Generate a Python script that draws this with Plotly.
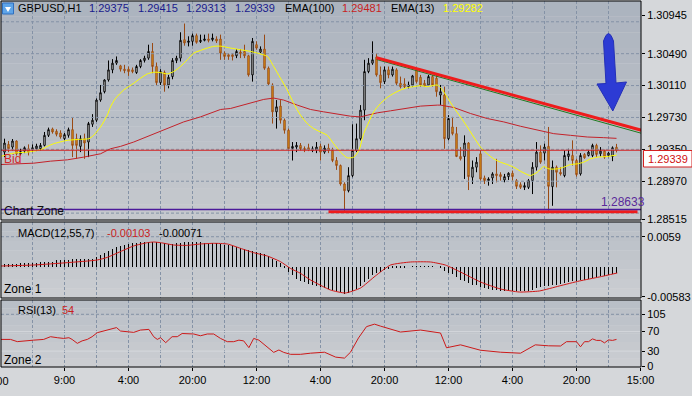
import plotly.graph_objects as go

# ---------------- data ----------------
bar_index = list(range(154))

opens = [
    1.29317, 1.29409, 1.29377, 1.29449, 1.29297, 1.29329, 1.29357, 1.29345, 1.29357, 1.29357,
    1.29397, 1.29517, 1.29593, 1.29565, 1.29545, 1.29477, 1.29517, 1.29585, 1.29477, 1.29385,
    1.29477, 1.29437, 1.29649, 1.29697, 1.29937, 1.30037, 1.30177, 1.30297, 1.30377, 1.30345,
    1.30305, 1.30305, 1.30297, 1.30265, 1.30337, 1.30409, 1.30437, 1.30517, 1.30337, 1.30145,
    1.30265, 1.30117, 1.30217, 1.30409, 1.30437, 1.30657, 1.30625, 1.30637, 1.30705, 1.30633,
    1.30649, 1.30665, 1.30657, 1.30665, 1.30665, 1.30497, 1.30477, 1.30477, 1.30465, 1.30509,
    1.30517, 1.30465, 1.30237, 1.30597, 1.30509, 1.30545, 1.30317, 1.30117, 1.29797, 1.29865,
    1.29697, 1.29577, 1.29361, 1.29377, 1.29397, 1.29361, 1.29369, 1.29337, 1.29345, 1.29385,
    1.29317, 1.29365, 1.29337, 1.29217, 1.29157, 1.28937, 1.28857, 1.29037, 1.29337, 1.29477,
    1.29817, 1.30277, 1.30377, 1.30449, 1.30237, 1.30157, 1.30297, 1.30237, 1.30297, 1.30137,
    1.30129, 1.30097, 1.30117, 1.30297, 1.30209, 1.30137, 1.30117, 1.30217, 1.30197, 1.29997,
    1.29997, 1.29477, 1.29617, 1.29537, 1.29265, 1.29265, 1.29425, 1.29017, 1.29137, 1.29297,
    1.29009, 1.28977, 1.29009, 1.29057, 1.29049, 1.28985, 1.29025, 1.29065, 1.28977, 1.28929,
    1.28897, 1.28897, 1.28977, 1.29137, 1.29317, 1.29305, 1.29385, 1.28905, 1.29137, 1.29077,
    1.29037, 1.29265, 1.29277, 1.29217, 1.29057, 1.29289, 1.29277, 1.29277, 1.29397, 1.29297,
    1.29329, 1.29277, 1.29265, 1.29375]

highs = [
    1.29477, 1.29449, 1.29473, 1.29457, 1.29357, 1.29385, 1.29409, 1.29409, 1.29417, 1.29425,
    1.29557, 1.29609, 1.29609, 1.29589, 1.29577, 1.29545, 1.29609, 1.29729, 1.29537, 1.29517,
    1.29537, 1.29677, 1.29769, 1.29957, 1.30117, 1.30185, 1.30409, 1.30425, 1.30457, 1.30357,
    1.30357, 1.30337, 1.30325, 1.30357, 1.30425, 1.30465, 1.30597, 1.30617, 1.30385, 1.30305,
    1.30289, 1.30237, 1.30437, 1.30465, 1.30745, 1.30849, 1.30697, 1.30729, 1.30729, 1.30717,
    1.30717, 1.30729, 1.30729, 1.30697, 1.30717, 1.30517, 1.30497, 1.30497, 1.30545, 1.30545,
    1.30597, 1.30477, 1.30677, 1.30637, 1.30577, 1.30717, 1.30337, 1.30137, 1.29937, 1.29937,
    1.29717, 1.29597, 1.29437, 1.29437, 1.29425, 1.29385, 1.29417, 1.29385, 1.29437, 1.29417,
    1.29397, 1.29417, 1.29369, 1.29257, 1.29169, 1.28957, 1.29137, 1.29649, 1.29657, 1.29877,
    1.30417, 1.30437, 1.30637, 1.30497, 1.30337, 1.30337, 1.30337, 1.30337, 1.30317, 1.30217,
    1.30197, 1.30157, 1.30237, 1.30317, 1.30237, 1.30177, 1.30237, 1.30237, 1.30237, 1.30117,
    1.30097, 1.29757, 1.29737, 1.29617, 1.29377, 1.29517, 1.29437, 1.29217, 1.29257, 1.29337,
    1.29037, 1.29017, 1.29077, 1.29237, 1.29077, 1.29057, 1.29077, 1.29097, 1.28997, 1.28957,
    1.28957, 1.28997, 1.29197, 1.29437, 1.29397, 1.29417, 1.29617, 1.29217, 1.29157, 1.29137,
    1.29337, 1.29357, 1.29457, 1.29237, 1.29305, 1.29305, 1.29337, 1.29417, 1.29417, 1.29377,
    1.29345, 1.29317, 1.29385, 1.29415]

lows = [
    1.29257, 1.29317, 1.29337, 1.29277, 1.29277, 1.29305, 1.29277, 1.29317, 1.29329, 1.29337,
    1.29385, 1.29497, 1.29537, 1.29505, 1.29477, 1.29457, 1.29489, 1.29257, 1.29237, 1.29317,
    1.29237, 1.29257, 1.29617, 1.29677, 1.29917, 1.30017, 1.30157, 1.30257, 1.30357, 1.30277,
    1.30257, 1.30225, 1.30257, 1.30249, 1.30317, 1.30385, 1.30417, 1.30257, 1.30117, 1.30117,
    1.30037, 1.30077, 1.30185, 1.30377, 1.30397, 1.30585, 1.30577, 1.30585, 1.30609, 1.30617,
    1.30637, 1.30625, 1.30637, 1.30617, 1.30417, 1.30417, 1.30417, 1.30409, 1.30437, 1.30437,
    1.30437, 1.30217, 1.30157, 1.30537, 1.30497, 1.30297, 1.30117, 1.29657, 1.29597, 1.29657,
    1.29537, 1.29337, 1.29217, 1.29317, 1.29337, 1.29317, 1.29329, 1.29317, 1.29305, 1.29217,
    1.29297, 1.29305, 1.29197, 1.29105, 1.28917, 1.28617, 1.28837, 1.29017, 1.29317, 1.29457,
    1.29697, 1.30257, 1.30357, 1.30217, 1.30077, 1.30129, 1.30197, 1.30217, 1.30117, 1.30077,
    1.30077, 1.30077, 1.30097, 1.30137, 1.30097, 1.30097, 1.30097, 1.30097, 1.29977, 1.29877,
    1.29357, 1.29457, 1.29517, 1.29257, 1.29217, 1.28997, 1.28865, 1.28937, 1.29077, 1.28977,
    1.28937, 1.28917, 1.28937, 1.28957, 1.28977, 1.28957, 1.28985, 1.28977, 1.28877, 1.28877,
    1.28865, 1.28877, 1.28817, 1.29097, 1.29177, 1.29217, 1.28617, 1.28677, 1.28897, 1.29037,
    1.29017, 1.29217, 1.29157, 1.29025, 1.29037, 1.29237, 1.29265, 1.29257, 1.29257, 1.29265,
    1.29237, 1.29257, 1.29209, 1.29313]

closes = [
    1.29425, 1.29357, 1.29449, 1.29297, 1.29325, 1.29369, 1.29317, 1.29369, 1.29389, 1.29397,
    1.29517, 1.29585, 1.29557, 1.29529, 1.29497, 1.29525, 1.29585, 1.29397, 1.29397, 1.29477,
    1.29425, 1.29657, 1.29697, 1.29937, 1.30025, 1.30177, 1.30297, 1.30377, 1.30409, 1.30305,
    1.30289, 1.30277, 1.30277, 1.30337, 1.30409, 1.30437, 1.30517, 1.30337, 1.30145, 1.30277,
    1.30117, 1.30209, 1.30409, 1.30437, 1.30649, 1.30617, 1.30641, 1.30705, 1.30625, 1.30649,
    1.30665, 1.30649, 1.30677, 1.30641, 1.30497, 1.30457, 1.30457, 1.30457, 1.30517, 1.30489,
    1.30465, 1.30237, 1.30637, 1.30557, 1.30545, 1.30317, 1.30129, 1.29797, 1.29857, 1.29697,
    1.29577, 1.29357, 1.29385, 1.29397, 1.29357, 1.29345, 1.29345, 1.29357, 1.29377, 1.29317,
    1.29365, 1.29337, 1.29217, 1.29157, 1.28937, 1.28857, 1.29037, 1.29337, 1.29477, 1.29817,
    1.30277, 1.30377, 1.30417, 1.30237, 1.30145, 1.30297, 1.30237, 1.30305, 1.30137, 1.30097,
    1.30097, 1.30117, 1.30225, 1.30157, 1.30117, 1.30105, 1.30217, 1.30117, 1.30037, 1.30037,
    1.29477, 1.29717, 1.29537, 1.29265, 1.29237, 1.29425, 1.29025, 1.29137, 1.29197, 1.28997,
    1.28977, 1.28997, 1.29057, 1.29037, 1.29025, 1.29025, 1.29065, 1.29025, 1.28909, 1.28897,
    1.28917, 1.28977, 1.29137, 1.29317, 1.29197, 1.29377, 1.28909, 1.29137, 1.29077, 1.29057,
    1.29277, 1.29297, 1.29217, 1.29049, 1.29277, 1.29249, 1.29317, 1.29397, 1.29289, 1.29329,
    1.29257, 1.29305, 1.29369, 1.29339]

ema13_x = [-1, 2.3, 5.7, 9, 10.7, 12.3, 15.7, 19, 21.1, 22.3,
           24, 25.7, 26.5, 27.75, 29.8, 32.3, 34, 35.7, 37.3, 39,
           40.7, 42.3, 44, 45.7, 47.3, 49, 50.7, 52.3, 54, 56.5,
           59, 61.5, 63.2, 65.7, 67.3, 69, 70.7, 72.3, 74, 75.7,
           77.3, 79, 80.7, 82.3, 84, 85.7, 87.3, 88.6, 89.8, 91.1,
           92.3, 94, 95.7, 97.3, 99, 100.7, 102.3, 104, 105.7, 108.2,
           109.2, 110.7, 112.3, 114, 115.7, 117.3, 119, 120.7, 122.3, 124,
           125.7, 127.3, 129, 130.7, 131.5, 133.2, 134.8, 136.1, 138.2, 139.8,
           141.5, 143.2, 144.8, 146.5, 148.2, 150.7, 153]
ema13_v = [1.29265, 1.29305, 1.29317, 1.29345, 1.29385, 1.29417, 1.29457, 1.29469, 1.29477, 1.29517,
           1.29617, 1.29757, 1.29857, 1.29957, 1.30057, 1.30137, 1.30197, 1.30249, 1.30269, 1.30265,
           1.30249, 1.30277, 1.30337, 1.30417, 1.30497, 1.30529, 1.30557, 1.30577, 1.30580, 1.30557,
           1.30537, 1.30517, 1.30497, 1.30457, 1.30337, 1.30197, 1.30057, 1.29897, 1.29757, 1.29657,
           1.29597, 1.29557, 1.29517, 1.29417, 1.29317, 1.29249, 1.29257, 1.29337, 1.29537, 1.29677,
           1.29797, 1.29897, 1.29969, 1.30017, 1.30057, 1.30085, 1.30097, 1.30109, 1.30097, 1.30117,
           1.30077, 1.29969, 1.29849, 1.29737, 1.29617, 1.29497, 1.29377, 1.29297, 1.29237, 1.29197,
           1.29169, 1.29137, 1.29089, 1.29049, 1.29037, 1.29077, 1.29145, 1.29117, 1.29117, 1.29137,
           1.29169, 1.29177, 1.29197, 1.29237, 1.29257, 1.29265, 1.29282]

ema100_x = [-1, 7.3, 11.5, 15.7, 19.8, 22.3, 24, 26.5, 29, 32.3,
            36.5, 40.7, 44.8, 49, 54, 56.5, 61.5, 64.8, 67.3, 69.8,
            73.2, 76.5, 79.8, 83.2, 86.5, 89, 90.7, 93.2, 96.5, 99.8,
            103.2, 104, 108.2, 109, 112.3, 116.5, 120.7, 124.8, 129, 133.2,
            137.3, 141.5, 145.7, 149.8, 153]
ema100_v = [1.29169, 1.29185, 1.29209, 1.29225, 1.29257, 1.29277, 1.29297, 1.29357, 1.29385, 1.29437,
            1.29517, 1.29597, 1.29677, 1.29737, 1.29825, 1.29837, 1.29897, 1.29945, 1.29961, 1.29937,
            1.29877, 1.29825, 1.29797, 1.29769, 1.29745, 1.29737, 1.29757, 1.29785, 1.29809, 1.29837,
            1.29857, 1.29865, 1.29877, 1.29877, 1.29849, 1.29777, 1.29717, 1.29677, 1.29625, 1.29577,
            1.29537, 1.29517, 1.29497, 1.29489, 1.29481]

macd_hist = [
    0.0005, 0.0005, 0.0005, 0.0005, 0.0007, 0.0007, 0.0007, 0.0007, 0.0007, 0.0010,
    0.0010, 0.0010, 0.0010, 0.00135, 0.00135, 0.00135, 0.00135, 0.0015, 0.0015, 0.0015,
    0.0015, 0.0015, 0.0015, 0.0020, 0.0024, 0.0028, 0.0032, 0.0035, 0.0038, 0.0040,
    0.0042, 0.0044, 0.0046, 0.0047, 0.0048, 0.0049, 0.0049, 0.0049, 0.0049, 0.0047,
    0.0046, 0.0045, 0.0045, 0.0046, 0.0047, 0.0048, 0.0048, 0.0048, 0.0048, 0.0048,
    0.0047, 0.0047, 0.0046, 0.0046, 0.0045, 0.0043, 0.0042, 0.0040, 0.0039, 0.0037,
    0.0035, 0.0033, 0.0031, 0.0030, 0.0028, 0.0025, 0.0022, 0.0016, 0.0012, 0.0007,
    -0.0001, -0.0009, -0.0016, -0.0023, -0.0027, -0.0030, -0.0033, -0.0035, -0.0037, -0.0039,
    -0.0041, -0.0043, -0.0045, -0.0047, -0.0050, -0.0052, -0.0051, -0.0048, -0.0044, -0.0038,
    -0.0030, -0.0023, -0.0016, -0.0012, -0.0009, -0.0006, -0.0004, -0.0002, -0.0002, -0.0001,
    -0.0001, 0.0000, 0.0001, 0.0001, 0.0001, 0.0001, 0.0001, 0.0001, 0.0000, -0.0001,
    -0.0008, -0.0011, -0.0014, -0.0020, -0.0025, -0.0027, -0.0032, -0.0035, -0.0036, -0.0040,
    -0.0042, -0.0044, -0.0045, -0.0046, -0.0047, -0.0047, -0.0047, -0.0047, -0.0048, -0.0048,
    -0.0048, -0.0047, -0.0045, -0.0041, -0.0040, -0.0037, -0.0038, -0.0036, -0.0035, -0.0034,
    -0.0031, -0.0030, -0.0028, -0.0028, -0.0026, -0.0025, -0.0023, -0.0021, -0.0020, -0.0018,
    -0.0017, -0.0015, -0.0013, -0.0011]

macd_sig_x = [-1, 7.3, 15.7, 23.2, 25.7, 29, 32.3, 35.7, 37.3, 39,
              42.3, 45.7, 49, 52.3, 55.7, 59, 62.3, 65.7, 69, 71.5,
              74, 76.5, 81.5, 85.2, 89, 92.7, 96.5, 101.5, 106.5, 110.2,
              114, 119, 124, 128.7, 133.7, 138.7, 143.7, 148.7, 153.2]
macd_sig_v = [0.00017, 0.00037, 0.00083, 0.00135, 0.00187, 0.003, 0.0041, 0.00474, 0.00487, 0.00474,
              0.00428, 0.00421, 0.00448, 0.00461, 0.00448, 0.00363, 0.00278, 0.00213, 0.00102, -0.0003,
              -0.00126, -0.00256, -0.00452, -0.0051, -0.00413, -0.00178, 0.00037, 0.00096, 0.00096, 0.00037,
              -0.001, -0.00295, -0.00432, -0.00491, -0.00471, -0.00373, -0.00276, -0.00197, -0.00119]

rsi_x = [-1, 1.5, 3.2, 4.8, 7.3, 9.8, 11.5, 13.2, 14.8, 16.1,
         16.9, 18.2, 19.4, 20.7, 21.9, 23.2, 24.8, 26.5, 28, 29,
         30.7, 32.3, 34, 36.1, 37.3, 38.2, 39, 40.3, 41.9, 43.2,
         44.4, 45.7, 47.3, 49, 50.7, 52.3, 54, 55.7, 57.3, 58.6,
         59.8, 61.1, 62.3, 63.6, 64.8, 66.1, 67.3, 68.6, 69.8, 71.5,
         74, 76.5, 80, 82.8, 85, 86.5, 88.5, 90.5, 92.5, 94,
         99, 104, 109, 110.5, 114, 119, 124, 129, 132.7, 136,
         139, 140.5, 143, 144, 145, 146, 147, 148, 149, 150,
         151, 152, 153]
rsi_v = [54, 54, 49.5, 51, 52.5, 54, 59.5, 57.5, 56, 57.5,
         54, 46, 51, 54, 59.5, 67.7, 71, 74.4, 78, 71,
         69.7, 68.3, 73, 74.4, 59.5, 54, 57.5, 47.4, 59.5, 59.5,
         66, 65, 65, 61.4, 65, 65, 56, 49.4, 49.4, 52.5,
         51, 37.2, 56, 52.5, 44.7, 37.2, 27.7, 32.5, 27.7, 23.7,
         23.7, 26, 28, 18, 16, 28, 57, 80, 85, 81,
         69, 73, 67, 37, 43, 32, 28, 26, 43, 41,
         40.6, 49.4, 49.4, 39, 49.4, 49.4, 55, 52, 52, 47,
         53, 52, 54]

# drawn objects (bar index / price)
trend_x = [93, 159.25]
trend_red_y = [1.30442, 1.29578]
trend_green_y = [1.30421, 1.29541]
support_x = [81, 158.25]
support_y = [1.28607, 1.28607]
bid_price = 1.29339
zone_price = 1.28633

# axis ticks
x_tick_pos = [15, 31, 47, 63, 79, 95, 111, 127, 143, 159]
x_tick_text = ["9:00", "4:00", "20:00", "12:00", "4:00", "20:00", "12:00", "4:00", "20:00", "15:00"]
x_minor_pos = [7, 23, 39, 55, 71, 87, 103, 119, 135, 151]
price_ticks = [1.30945, 1.30490, 1.30110, 1.29730, 1.29350, 1.28970, 1.28515]
price_tick_text = ["1.30945", "1.30490", "1.30110", "1.29730", "1.29350", "1.28970", "1.28515"]
price_grid = [1.30870, 1.30490, 1.30110, 1.29730, 1.29350, 1.28970, 1.28590]
macd_ticks = [0.0059, -0.00583]
macd_tick_text = ["0.0059", "-0.00583"]
rsi_ticks = [105, 70, 30, 0]

# ---------------- layout geometry ----------------
W, H = 692, 396
ML, MR, MT, MB = 1, 51, 1, 29
PW = W - ML - MR
PH = H - MT - MB


def px(x):
    return (x - ML) / PW


def py(y):
    return (H - MB - y) / PH


FONT = "Liberation Sans, Arial, sans-serif"
GRID = "#8492a6"
DASH = "3px,2px"
BLACK = "#000000"

main_dom = [py(220), py(1)]
macd_dom = [py(298), py(222)]
rsi_dom = [0.0, py(300)]
x_range = [-0.875, 159.125]
price_range = [1.285079, 1.311178]
macd_range = [-0.00608, 0.008778]
rsi_range = [-2.03, 134.04]

fig = go.Figure()

# horizontal grid lines (under the data)
for g in price_grid:
    fig.add_trace(go.Scatter(x=x_range, y=[g, g], mode="lines", hoverinfo="skip",
                             line=dict(color=GRID, width=1, dash=DASH), xaxis="x", yaxis="y"))
fig.add_trace(go.Scatter(x=x_range, y=[macd_ticks[0]] * 2, mode="lines", hoverinfo="skip",
                         line=dict(color=GRID, width=1, dash=DASH), xaxis="x2", yaxis="y2"))
fig.add_trace(go.Scatter(x=x_range, y=[rsi_ticks[0]] * 2, mode="lines", hoverinfo="skip",
                         line=dict(color=GRID, width=1, dash=DASH), xaxis="x3", yaxis="y3"))
for lv in rsi_ticks[1:3]:
    fig.add_trace(go.Scatter(x=x_range, y=[lv, lv], mode="lines", hoverinfo="skip",
                             line=dict(color="#d3d6db", width=1), xaxis="x3", yaxis="y3"))

fig.add_trace(go.Candlestick(
    x=bar_index, open=opens, high=highs, low=lows, close=closes,
    increasing=dict(line=dict(color="#000000", width=1), fillcolor="#ffffff"),
    decreasing=dict(line=dict(color="#9a4a14", width=1), fillcolor="#efaa14"),
    whiskerwidth=0, xaxis="x", yaxis="y", hoverinfo="skip"))

fig.add_trace(go.Scatter(x=ema100_x, y=ema100_v, mode="lines",
                         line=dict(color="#c3222a", width=1), xaxis="x", yaxis="y"))
fig.add_trace(go.Scatter(x=ema13_x, y=ema13_v, mode="lines",
                         line=dict(color="#ffff00", width=1, shape="spline", smoothing=0.6),
                         xaxis="x", yaxis="y"))
fig.add_trace(go.Scatter(x=trend_x, y=trend_green_y, mode="lines",
                         line=dict(color="#1f7a1f", width=1), xaxis="x", yaxis="y"))
fig.add_trace(go.Scatter(x=trend_x, y=trend_red_y, mode="lines",
                         line=dict(color="#ee1c1c", width=3), xaxis="x", yaxis="y"))
fig.add_trace(go.Scatter(x=support_x, y=support_y, mode="lines",
                         line=dict(color="#ee1c1c", width=3), xaxis="x", yaxis="y"))

fig.add_trace(go.Bar(x=bar_index, y=macd_hist, width=0.25,
                     marker=dict(color="#000000", line=dict(width=0)),
                     xaxis="x2", yaxis="y2"))
fig.add_trace(go.Scatter(x=macd_sig_x, y=macd_sig_v, mode="lines",
                         line=dict(color="#d01818", width=1, shape="spline", smoothing=0.5),
                         xaxis="x2", yaxis="y2"))

fig.add_trace(go.Scatter(x=rsi_x, y=rsi_v, mode="lines",
                         line=dict(color="#cc1a1a", width=1), xaxis="x3", yaxis="y3"))

# ---------------- shapes ----------------
shapes = []


def lerp(c1, c2, t):
    return "rgb(%d,%d,%d)" % tuple(round(a + (b - a) * t) for a, b in zip(c1, c2))


def bands(y_top, y_bot, c_top, c_bot, n=14):
    for k in range(n):
        ya = y_top + (y_bot - y_top) * k / n
        yb = y_top + (y_bot - y_top) * (k + 1) / n
        shapes.append(dict(type="rect", xref="paper", yref="paper", x0=0, x1=1,
                           y0=py(yb), y1=py(ya), line=dict(width=0),
                           fillcolor=lerp(c_top, c_bot, (k + 0.5) / n), layer="below"))


bands(1, 220, (171, 179, 190), (198, 201, 206))
bands(222, 298, (184, 190, 198), (204, 206, 210), 8)
bands(300, 367, (184, 190, 198), (204, 206, 210), 8)

# bid line & chart zone line
shapes.append(dict(type="line", xref="x domain", yref="y", x0=0, x1=1, y0=bid_price, y1=bid_price,
                   line=dict(color="#d42020", width=1), layer="above"))
shapes.append(dict(type="line", xref="x domain", yref="y", x0=0, x1=1, y0=zone_price, y1=zone_price,
                   line=dict(color="#4b1a9a", width=1.5), layer="above"))

# panel frames
for (ya, yb) in [(1, 220), (222, 298), (300, 367)]:
    shapes.append(dict(type="rect", xref="paper", yref="paper", x0=px(1), x1=px(641),
                       y0=py(yb), y1=py(ya), line=dict(color=BLACK, width=1), layer="above"))

# blue arrow
pts = [("M", 603.5, 41), ("Q", 608.5, 26, 613.5, 41), ("L", 616, 83), ("L", 626.5, 82),
       ("L", 612.8, 111), ("L", 597, 84), ("L", 606, 83.5)]
path = ""
for p in pts:
    if p[0] == "Q":
        path += "Q %.5f %.5f %.5f %.5f " % (px(p[1]), py(p[2]), px(p[3]), py(p[4]))
    else:
        path += "%s %.5f %.5f " % (p[0], px(p[1]), py(p[2]))
path += "Z"
shapes.append(dict(type="path", xref="paper", yref="paper", path=path,
                   fillcolor="#2d3bd4", line=dict(color="#2430b8", width=1), layer="above"))

# small icon top-left
shapes.append(dict(type="rect", xref="paper", yref="paper", x0=px(2.5), x1=px(13.5),
                   y0=py(14), y1=py(3), fillcolor="#5ea4e8", line=dict(color="#2f6fbf", width=1),
                   layer="above"))
icon_path = "M %.5f %.5f L %.5f %.5f L %.5f %.5f Z" % (px(5), py(7), px(11), py(7), px(8), py(12))
shapes.append(dict(type="path", xref="paper", yref="paper", path=icon_path,
                   fillcolor="#ffffff", line=dict(width=0), layer="above"))

# price box on the axis
shapes.append(dict(type="rect", xref="paper", yref="paper", x0=px(643.5), x1=px(692),
                   y0=py(167), y1=py(150.5), fillcolor="#ffffff",
                   line=dict(color="#d42020", width=1), layer="above"))

# ---------------- annotations ----------------
ann = []


def txt(s, x, y, color="#000000", size=11, anchor="left"):
    ann.append(dict(text=s, x=px(x), y=py(y), xref="paper", yref="paper", xanchor=anchor,
                    yanchor="middle", showarrow=False,
                    font=dict(family=FONT, size=size, color=color)))


NAVY = "#1a1a8c"
txt("GBPUSD,H1", 16, 8.5)
txt("1.29375", 86.5, 8.5, NAVY)
txt("1.29415", 135.5, 8.5, NAVY)
txt("1.29313", 183.5, 8.5, NAVY)
txt("1.29339", 232.5, 8.5, NAVY)
txt("EMA(100)", 282.5, 8.5)
txt("1.29481", 339.5, 8.5, "#c81e1e")
txt("EMA(13)", 389, 8.5)
txt("1.29282", 441, 8.5, "#ffff00")
txt("Bid", 2, 159, "#d42a2a", 12)
txt("Chart Zone", 2, 211, "#111111", 12)
txt("1.28633", 599, 201.5, "#5a2a9a", 12)
txt("MACD(12,55,7)", 16, 233)
txt("-0.00103", 104.5, 233, "#c81e1e")
txt("-0.00071", 157, 233)
txt("Zone 1", 1.5, 289, "#000000", 12)
txt("RSI(13)", 16, 310)
txt("54", 60, 310, "#c81e1e")
txt("Zone 2", 1.5, 359.5, "#000000", 12)
txt("1.29339", 646, 158.5, "#d01010")
txt("17:00", 11, 381, anchor="right")

# ---------------- axes ----------------
tickfont = dict(family=FONT, size=11, color="#000000")


def xax(anchor, labels):
    d = dict(domain=[0, 1], range=x_range, anchor=anchor, showline=False, zeroline=False,
             tickvals=x_tick_pos, ticktext=x_tick_text, showgrid=True, gridcolor=GRID,
             griddash=DASH, gridwidth=1,
             minor=dict(tickvals=x_minor_pos, showgrid=True, gridcolor=GRID, griddash=DASH,
                        gridwidth=1, ticks=""),
             rangeslider=dict(visible=False), fixedrange=True)
    if labels:
        d.update(showticklabels=True, ticks="outside", ticklen=3, tickcolor="#000000",
                 tickfont=tickfont)
    else:
        d.update(showticklabels=False, ticks="")
    return d


def yax(anchor, dom, rng, tv, tt):
    return dict(domain=dom, range=rng, anchor=anchor, side="right", tickvals=tv, ticktext=tt,
                ticks="outside", ticklen=3, tickcolor="#000000", tickfont=tickfont,
                showgrid=False, zeroline=False, showline=False, fixedrange=True)


fig.update_layout(
    width=W, height=H,
    margin=dict(l=ML, r=MR, t=MT, b=MB, pad=0),
    paper_bgcolor="#d5d7da", plot_bgcolor="#d5d7da",
    showlegend=False, bargap=0, boxgap=0.5,
    xaxis=xax("y", False),
    xaxis2=xax("y2", False),
    xaxis3=xax("y3", True),
    yaxis=yax("x", main_dom, price_range, price_ticks, price_tick_text),
    yaxis2=yax("x2", macd_dom, macd_range, macd_ticks, macd_tick_text),
    yaxis3=yax("x3", rsi_dom, rsi_range, rsi_ticks, [str(v) for v in rsi_ticks]),
    shapes=shapes, annotations=ann,
    font=dict(family=FONT, size=11, color="#000000"),
)

fig.write_html("out.html", config={"displayModeBar": False},
               post_script="document.body.style.margin='0px';")
